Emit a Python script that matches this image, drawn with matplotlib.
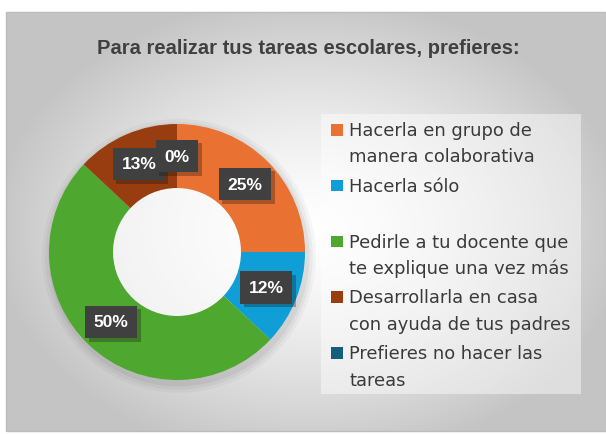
import numpy as np
import matplotlib.pyplot as plt
import matplotlib.patheffects as pe
from matplotlib.patches import Rectangle, Wedge, Circle

# data
categorias = [
    "Hacerla en grupo de\nmanera colaborativa",
    "Hacerla sólo\n",
    "Pedirle a tu docente que\nte explique una vez más",
    "Desarrollarla en casa\ncon ayuda de tus padres",
    "Prefieres no hacer las\ntareas",
]
porcentajes = [25, 12, 50, 13, 0]
colores = ["#E97132", "#0F9ED5", "#4EA72E", "#983D0F", "#135E7C"]
titulo = "Para realizar tus tareas escolares, prefieres:"

W, H = 606, 435
fig = plt.figure(figsize=(W / 100, H / 100), dpi=100)

# background with radial gradient (pixel coordinates)
bg = fig.add_axes([0, 0, 1, 1])
bg.set_xlim(0, W)
bg.set_ylim(H, 0)
bg.axis("off")
yy, xx = np.mgrid[0:H, 0:W]
d = np.sqrt(((xx - 306) / 330.0) ** 2 + ((yy - 225) / 250.0) ** 2)
g = np.clip(1.0 - 0.24 * d ** 1.4, 0.77, 1.0)
img = np.dstack([g, g, g])
bg.imshow(img, extent=[6, W, 432, 13], zorder=0, interpolation="bilinear")
bg.add_patch(Rectangle((6, 13), W - 6, 419, fill=False, ec="#bcbcbc", lw=1, zorder=1))

# legend box
bg.add_patch(Rectangle((321, 115), 260, 280, fc="white", ec="none", alpha=0.45, zorder=1))

bg.text(308, 48, titulo, ha="center", va="center", fontsize=14.5,
        fontweight="bold", color="#404040", family="Liberation Sans", zorder=3)

# donut
cx, cy, R = 177, 253, 128
side = 290
ax = fig.add_axes([(cx - side / 2) / W, (H - cy - side / 2) / H, side / W, side / H])
ax.axis("off")

# faint shadow around the ring
for k, a in zip([1.07, 1.045, 1.02], [0.03, 0.04, 0.05]):
    ax.add_patch(Wedge((0.015, -0.03), k, 0, 360, width=k - 0.56, fc="black", alpha=a, lw=0))
ax.add_patch(Circle((0, 0), 0.5, fc="white", alpha=0.6, lw=0, zorder=0.5))

wedges, _ = ax.pie(porcentajes, colors=colores, startangle=90, counterclock=False,
                   radius=1, wedgeprops=dict(width=0.5, linewidth=0))

lim = side / 2 / R
ax.set_xlim(-lim, lim)
ax.set_ylim(-lim, lim)
ax.set_aspect("equal")

total = sum(porcentajes)
acum = 0
for v in porcentajes:
    ang = np.deg2rad(90 - (acum + v / 2) / total * 360)
    acum += v
    t = ax.text(0.75 * np.cos(ang), 0.75 * np.sin(ang), f"{v}%", ha="center", va="center",
                fontsize=12.5, fontweight="bold", color="white", family="Liberation Sans",
                bbox=dict(boxstyle="square,pad=0.5", fc="#404040", ec="none"), zorder=5)
    t.get_bbox_patch().set_path_effects([pe.SimplePatchShadow(offset=(2.5, -2.5), alpha=0.3), pe.Normal()])

# legend
base0 = 136
for i, (lab, col) in enumerate(zip(categorias, colores)):
    y0 = base0 + i * 55.8
    bg.add_patch(Rectangle((331, y0 - 11), 11.5, 11.5, fc=col, ec="none", zorder=3))
    for j, linea in enumerate(lab.split("\n")):
        bg.text(349, y0 + j * 26.5, linea, ha="left", va="baseline", fontsize=12.9,
                color="#3a3a3a", family="DejaVu Sans", zorder=3)

fig.savefig("out.png", dpi=100, facecolor="white")
